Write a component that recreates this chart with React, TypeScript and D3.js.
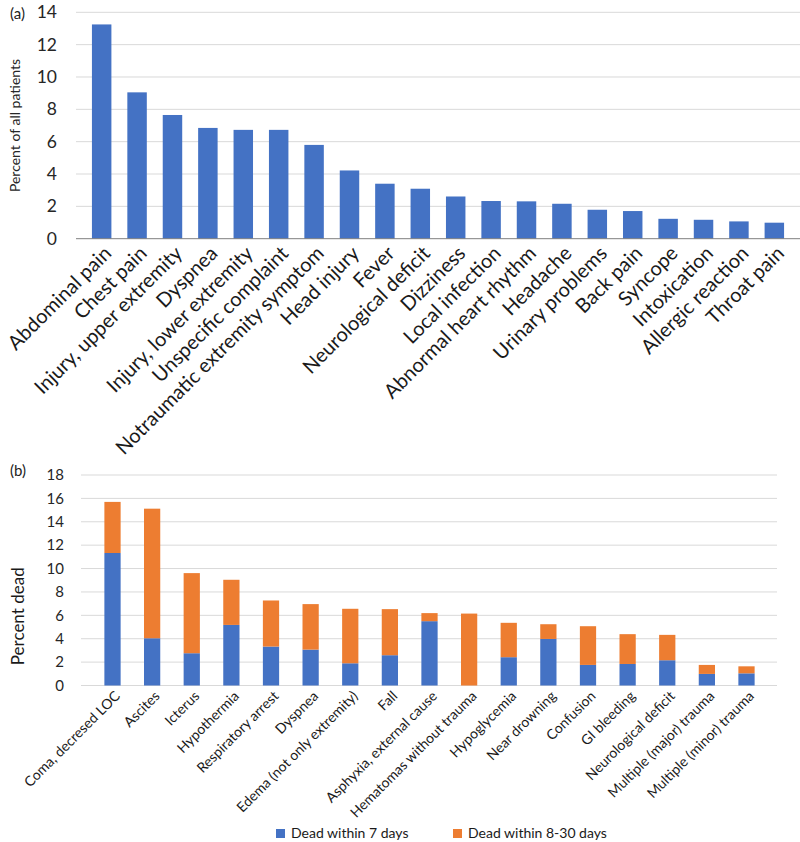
import * as d3 from "d3";

const catsA = [
  "Abdominal pain", "Chest pain", "Injury, upper extremity", "Dyspnea",
  "Injury, lower extremity", "Unspecific complaint", "Notraumatic extremity symptom",
  "Head injury", "Fever", "Neurological deficit", "Dizziness", "Local infection",
  "Abnormal heart rhythm", "Headache", "Urinary problems", "Back pain", "Syncope",
  "Intoxication", "Allergic reaction", "Throat pain",
];
const pctA = [
  13.25, 9.05, 7.65, 6.85, 6.73, 6.73, 5.8, 4.22, 3.4, 3.09,
  2.61, 2.33, 2.31, 2.16, 1.79, 1.71, 1.23, 1.17, 1.07, 0.99,
];
const ticksA = [0, 2, 4, 6, 8, 10, 12, 14];

const catsB = [
  "Coma, decresed LOC", "Ascites", "Icterus", "Hypothermia", "Respiratory arrest",
  "Dyspnea", "Edema (not only extremity)", "Fall", "Asphyxia, external cause",
  "Hematomas without trauma", "Hypoglycemia", "Near drowning", "Confusion",
  "GI bleeding", "Neurological deficit", "Multiple (major) trauma", "Multiple (minor) trauma",
];
const dead7 = [11.33, 4.04, 2.76, 5.18, 3.33, 3.07, 1.9, 2.59, 5.5, 0, 2.42, 3.98, 1.76, 1.84, 2.16, 0.99, 1.04];
const dead8to30 = [4.37, 11.08, 6.85, 3.86, 3.94, 3.89, 4.66, 3.94, 0.69, 6.15, 2.94, 1.26, 3.31, 2.55, 2.17, 0.77, 0.6];
const ticksB = [0, 2, 4, 6, 8, 10, 12, 14, 16, 18];
const seriesB = ["Dead within 7 days", "Dead within 8-30 days"];

const BLUE = "#4472C4";
const ORANGE = "#ED7D31";
const GRID = "#d9d9d9";
const FONT = "Lato, 'Open Sans', sans-serif";

const App = () => {
  // panel (a)
  const xA = d3.scaleBand().domain(catsA).range([76, 800]).padding(0.45);
  const yA = d3.scaleLinear().domain([0, 14]).range([238.7, 12.3]);

  // panel (b)
  const xB = d3.scaleBand().domain(catsB).range([81, 778]).padding(0.59);
  const yB = d3.scaleLinear().domain([0, 18]).range([685.5, 475]);

  const rowsB = catsB.map((c, i) => ({ cat: c, d7: dead7[i], d30: dead8to30[i] }));
  const stacked = d3.stack<any>().keys(["d7", "d30"])(rowsB);
  const color = d3.scaleOrdinal<string>().domain(["d7", "d30"]).range([BLUE, ORANGE]);

  return (
    <svg
      width={800}
      height={842}
      style={{ position: "absolute", left: 0, top: 0, fontFamily: FONT }}
    >
      <rect width={800} height={842} fill="white" />

      {/* (a) */}
      <text x={10} y={19} fontSize={15} fill="#222">(a)</text>
      {ticksA.map((t) => (
        <g key={"ga" + t}>
          {t > 0 && <line x1={76} x2={800} y1={yA(t)} y2={yA(t)} stroke={GRID} strokeWidth={1} />}
          <text x={57} y={yA(t)} dy="0.35em" textAnchor="end" fontSize={17.5} fill="#262626">{t}</text>
        </g>
      ))}
      <text
        transform={`translate(20,${(yA(0) + yA(14)) / 2}) rotate(-90)`}
        textAnchor="middle"
        fontSize={14}
        fill="#262626"
      >
        Percent of all patients
      </text>
      {catsA.map((c, i) => (
        <rect key={c} x={xA(c)} y={yA(pctA[i])} width={xA.bandwidth()} height={yA(0) - yA(pctA[i])} fill={BLUE} />
      ))}
      <line x1={76} x2={800} y1={yA(0)} y2={yA(0)} stroke="#7f7f7f" strokeWidth={1} />
      {catsA.map((c) => (
        <text
          key={"la" + c}
          transform={`translate(${xA(c)! + xA.bandwidth() / 2 + 6},${yA(0) + 11}) rotate(-45)`}
          textAnchor="end"
          dy="0.35em"
          fontSize={20}
          fill="#1a1a1a"
        >
          {c}
        </text>
      ))}

      {/* (b) */}
      <text x={10} y={476} fontSize={15} fill="#222">(b)</text>
      {ticksB.map((t) => (
        <g key={"gb" + t}>
          <line x1={81} x2={777} y1={yB(t)} y2={yB(t)} stroke={GRID} strokeWidth={1} />
          <text x={64} y={yB(t)} dy="0.35em" textAnchor="end" fontSize={15} fill="#262626">{t}</text>
        </g>
      ))}
      <text
        transform={`translate(24,${(yB(0) + yB(18)) / 2 + 36}) rotate(-90)`}
        textAnchor="middle"
        fontSize={17}
        fill="#1a1a1a"
      >
        Percent dead
      </text>
      {stacked.map((s) => (
        <g key={s.key} fill={color(s.key)}>
          {s.map((d: any) => (
            <rect
              key={d.data.cat}
              x={xB(d.data.cat)}
              y={yB(d[1])}
              width={xB.bandwidth()}
              height={Math.max(0, yB(d[0]) - yB(d[1]))}
            />
          ))}
        </g>
      ))}
      {catsB.map((c) => (
        <text
          key={"lb" + c}
          transform={`translate(${xB(c)! + xB.bandwidth() / 2 + 5},${yB(0) + 8}) rotate(-45)`}
          textAnchor="end"
          dy="0.35em"
          fontSize={14}
          fill="#1a1a1a"
        >
          {c}
        </text>
      ))}

      {/* legend */}
      {seriesB.map((name, i) => {
        const lx = i === 0 ? 276 : 453;
        return (
          <g key={name}>
            <rect x={lx} y={829} width={9} height={9} fill={i === 0 ? BLUE : ORANGE} />
            <text x={lx + 15} y={838} fontSize={14} fill="#1a1a1a">{name}</text>
          </g>
        );
      })}
    </svg>
  );
};

export default App;
